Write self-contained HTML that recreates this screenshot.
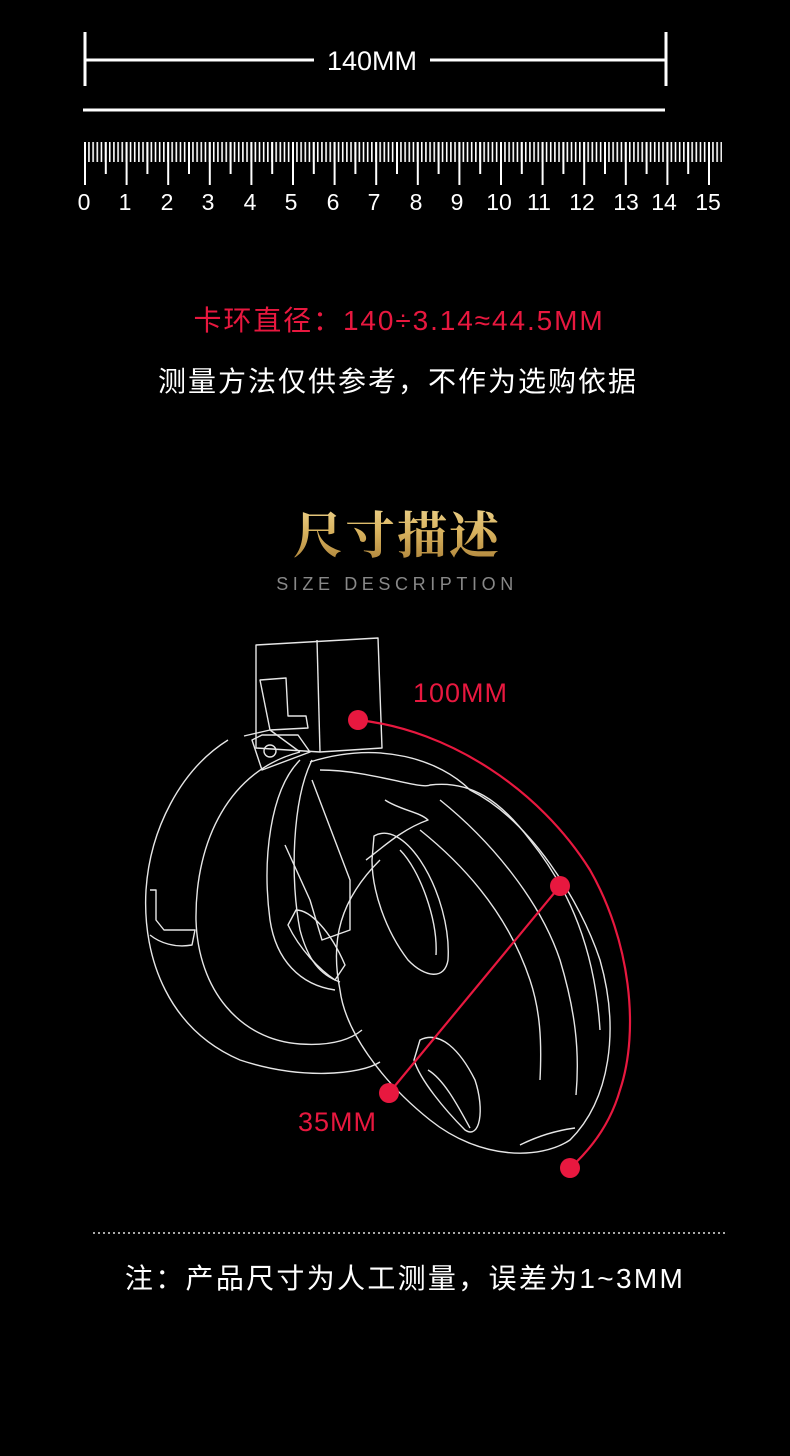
<!DOCTYPE html>
<html><head><meta charset="utf-8"><style>
html,body{margin:0;padding:0;background:#000;}
body{width:790px;height:1456px;position:relative;overflow:hidden;font-family:"Liberation Sans","Noto Sans CJK SC",sans-serif;}
.t{position:absolute;left:0;width:790px;text-align:center;white-space:nowrap;}
</style></head><body>
<svg width="790" height="1456" style="position:absolute;left:0;top:0" xmlns="http://www.w3.org/2000/svg">
<defs>
<pattern id="mm" x="84" y="0" width="4.16" height="1456" patternUnits="userSpaceOnUse">
<rect x="0" y="0" width="1.6" height="1456" fill="#fff"/>
</pattern>
<linearGradient id="gold" x1="0" y1="0" x2="0" y2="1">
<stop offset="0" stop-color="#f3dc9a"/><stop offset="0.5" stop-color="#d8b25e"/><stop offset="1" stop-color="#a77c34"/>
</linearGradient>
</defs>
<g stroke="#fff" stroke-width="3" fill="none">
<line x1="85" y1="32" x2="85" y2="86"/>
<line x1="666" y1="32" x2="666" y2="86"/>
<line x1="85" y1="60" x2="314" y2="60"/>
<line x1="430" y1="60" x2="666" y2="60"/>
<line x1="83" y1="110" x2="665" y2="110"/>
</g>
<text x="372" y="70" fill="#fff" font-size="27" text-anchor="middle" font-family="Liberation Sans, sans-serif">140MM</text>
<rect x="84" y="142" width="638" height="20" fill="url(#mm)"/>
<g stroke="#fff" stroke-width="2">
<line x1="85" y1="142" x2="85" y2="185"/><line x1="126.6" y1="142" x2="126.6" y2="185"/><line x1="168.2" y1="142" x2="168.2" y2="185"/><line x1="209.8" y1="142" x2="209.8" y2="185"/><line x1="251.4" y1="142" x2="251.4" y2="185"/><line x1="293" y1="142" x2="293" y2="185"/><line x1="334.6" y1="142" x2="334.6" y2="185"/><line x1="376.2" y1="142" x2="376.2" y2="185"/><line x1="417.8" y1="142" x2="417.8" y2="185"/><line x1="459.4" y1="142" x2="459.4" y2="185"/><line x1="501" y1="142" x2="501" y2="185"/><line x1="542.6" y1="142" x2="542.6" y2="185"/><line x1="584.2" y1="142" x2="584.2" y2="185"/><line x1="625.8" y1="142" x2="625.8" y2="185"/><line x1="667.4" y1="142" x2="667.4" y2="185"/><line x1="709" y1="142" x2="709" y2="185"/>
<line x1="105.8" y1="142" x2="105.8" y2="174"/><line x1="147.4" y1="142" x2="147.4" y2="174"/><line x1="189" y1="142" x2="189" y2="174"/><line x1="230.6" y1="142" x2="230.6" y2="174"/><line x1="272.2" y1="142" x2="272.2" y2="174"/><line x1="313.8" y1="142" x2="313.8" y2="174"/><line x1="355.4" y1="142" x2="355.4" y2="174"/><line x1="397" y1="142" x2="397" y2="174"/><line x1="438.6" y1="142" x2="438.6" y2="174"/><line x1="480.2" y1="142" x2="480.2" y2="174"/><line x1="521.8" y1="142" x2="521.8" y2="174"/><line x1="563.4" y1="142" x2="563.4" y2="174"/><line x1="605" y1="142" x2="605" y2="174"/><line x1="646.6" y1="142" x2="646.6" y2="174"/><line x1="688.2" y1="142" x2="688.2" y2="174"/>
</g>
<g fill="#fff" font-size="23" text-anchor="middle" font-family="Liberation Sans, sans-serif">
<text x="84" y="210">0</text><text x="125" y="210">1</text><text x="167" y="210">2</text><text x="208" y="210">3</text><text x="250" y="210">4</text><text x="291" y="210">5</text><text x="333" y="210">6</text><text x="374" y="210">7</text><text x="416" y="210">8</text><text x="457" y="210">9</text><text x="499" y="210">10</text><text x="539" y="210">11</text><text x="582" y="210">12</text><text x="626" y="210">13</text><text x="664" y="210">14</text><text x="708" y="210">15</text>
</g>
<text x="397" y="553" fill="url(#gold)" font-size="50" font-weight="bold" text-anchor="middle" letter-spacing="2" font-family="Noto Serif CJK SC, serif">尺寸描述</text>
<text x="397" y="590" fill="#888" font-size="18" text-anchor="middle" letter-spacing="4.6" font-family="Liberation Sans, sans-serif">SIZE DESCRIPTION</text>
<g stroke="#e6e6e6" stroke-width="1.4" fill="none" stroke-linejoin="round">
<path d="M256 645 L378 638 L382 748 L320 752 L256 748 Z"/>
<line x1="317" y1="640" x2="320" y2="752"/>
<path d="M260 680 L286 678 L288 716 L306 716 L308 728 L270 730 Z"/>
<path d="M228 740 C180 770 150 830 146 890 C142 960 170 1030 240 1060 C300 1080 360 1075 380 1062"/>
<path d="M244 736 L270 730 L300 752"/>
<path d="M150 890 L156 890 L156 920 L164 930 L195 930 L192 945 C175 948 160 943 150 935"/>
<path d="M300 752 C230 770 195 840 196 920 C198 990 240 1040 300 1044 C330 1046 350 1040 362 1030"/>
<circle cx="270" cy="751" r="6"/>
<path d="M252 740 L262 735 L298 735 L310 752 L262 770 Z"/>
<path d="M300 760 C270 790 262 860 270 920 C276 960 300 985 335 990"/>
<path d="M312 760 C292 800 290 880 300 930 C308 960 320 975 340 982"/>
<path d="M310 762 C380 740 440 760 470 790 C530 820 580 900 600 960 C620 1030 610 1100 570 1140 C540 1160 480 1160 430 1120 C380 1080 345 1030 340 990 C330 940 340 900 380 860"/>
<path d="M320 770 C370 770 420 790 430 785 C470 780 500 800 530 840 C570 890 595 950 600 1030"/>
<path d="M440 800 C490 840 540 900 560 960 C575 1010 580 1050 576 1095"/>
<path d="M420 830 C470 870 510 920 530 980 C540 1010 542 1040 540 1080"/>
<path d="M385 800 C400 810 420 812 428 820 C400 830 380 850 366 860"/>
<path d="M374 836 C388 828 405 838 420 860 C440 890 450 930 448 960 C445 980 425 978 408 960 C385 930 372 890 372 860 Z"/>
<path d="M400 850 C420 870 438 920 436 955"/>
<path d="M312 780 L350 880 L350 930 L322 940 L310 900 L285 845"/>
<path d="M296 910 C310 910 330 930 345 965 L335 980 C320 970 300 950 288 925 Z"/>
<path d="M420 1040 C440 1030 460 1050 475 1080 C485 1110 480 1140 465 1130 C445 1110 420 1080 414 1060 Z"/>
<path d="M428 1070 C445 1080 460 1110 470 1128"/>
<path d="M520 1145 C540 1135 560 1130 575 1128"/>
</g>
<g stroke="#e8183f" stroke-width="2.2" fill="none">
<path d="M358 720 C450 730 540 790 590 870 C630 940 640 1030 620 1090 C610 1125 590 1150 570 1168"/>
<line x1="560" y1="886" x2="389" y2="1093"/>
</g>
<g fill="#e8183f">
<circle cx="358" cy="720" r="10"/><circle cx="560" cy="886" r="10"/><circle cx="389" cy="1093" r="10"/><circle cx="570" cy="1168" r="10"/>
</g>
<text x="413" y="702" fill="#e8183f" font-size="27" letter-spacing="1" font-family="Liberation Sans, sans-serif">100MM</text>
<text x="298" y="1131" fill="#e8183f" font-size="27" letter-spacing="1" font-family="Liberation Sans, sans-serif">35MM</text>
<line x1="93" y1="1233" x2="726" y2="1233" stroke="#aaa" stroke-width="2" stroke-dasharray="2 3"/>
</svg>
<div class="t" style="top:299px;font-size:28px;color:#e8183f;letter-spacing:1.9px;left:4px;">卡环直径：140÷3.14≈44.5MM</div>
<div class="t" style="top:360px;font-size:28px;color:#fff;letter-spacing:2px;left:3px;">测量方法仅供参考，不作为选购依据</div>
<div class="t" style="top:1257px;font-size:28px;color:#fff;left:10px;letter-spacing:2.3px;">注：产品尺寸为人工测量，误差为1~3MM</div>
</body></html>
